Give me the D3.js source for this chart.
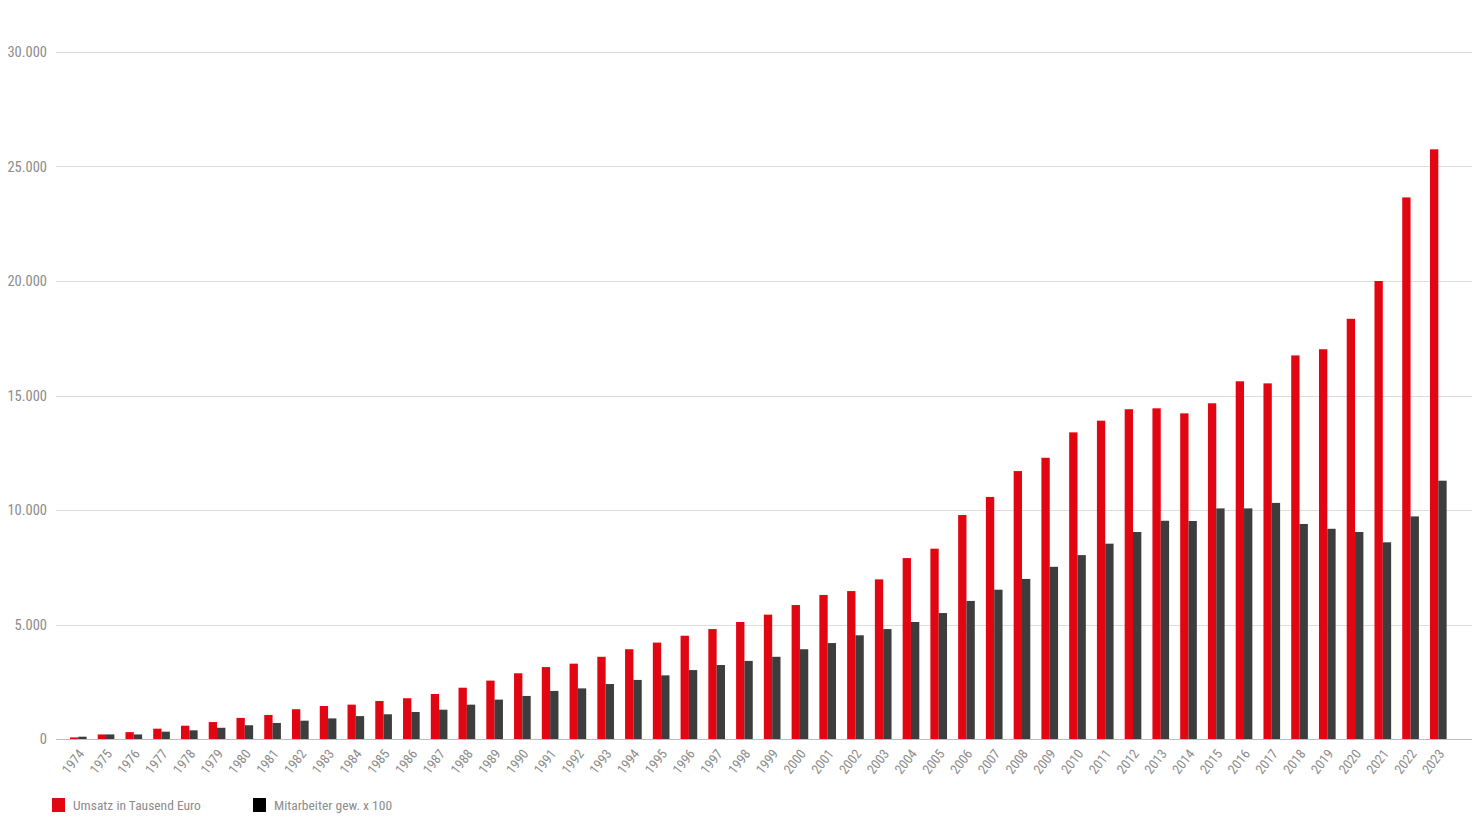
<!DOCTYPE html>
<html>
<head>
<meta charset="utf-8">
<script src="https://cdn.jsdelivr.net/npm/d3@7"></script>
<style>
  html, body { margin: 0; padding: 0; background: #fff; }
  svg { display: block; }
  text { font-family: "Liberation Sans Narrow", "Arial Narrow", "Roboto Condensed", "DejaVu Sans Condensed", sans-serif; fill: #8c8c8c; }
</style>
</head>
<body>
<svg id="chart" width="1472" height="837"></svg>
<script>
const years = [1974,1975,1976,1977,1978,1979,1980,1981,1982,1983,1984,1985,1986,1987,1988,1989,1990,1991,1992,1993,1994,1995,1996,1997,1998,1999,2000,2001,2002,2003,2004,2005,2006,2007,2008,2009,2010,2011,2012,2013,2014,2015,2016,2017,2018,2019,2020,2021,2022,2023];
const umsatz = [70,200,300,450,580,740,920,1050,1300,1440,1500,1660,1780,1965,2240,2550,2870,3140,3290,3590,3920,4210,4510,4800,5110,5430,5850,6290,6460,6970,7900,8310,9780,10570,11700,12280,13390,13900,14400,14440,14220,14660,15620,15530,16750,17020,18350,20000,23650,25750];
const mitarbeiter = [100,200,200,320,380,490,600,700,800,900,1000,1080,1180,1280,1500,1720,1880,2100,2210,2400,2580,2780,3010,3230,3410,3590,3920,4190,4530,4800,5110,5500,6030,6520,6990,7520,8030,8530,9040,9530,9520,10070,10070,10310,9390,9180,9040,8590,9720,11280];
const yTicks = [0,5000,10000,15000,20000,25000,30000];
const seriesNames = ["Umsatz in Tausend Euro", "Mitarbeiter gew. x 100"];
const seriesColors = ["#e20613", "#3d3d3d"];
const legendColors = ["#e20613", "#000000"];

const svg = d3.select("#chart");
const plotLeft = 56, plotRight = 1472;
const y = d3.scaleLinear().domain([0, 30000]).range([739, 52]);
const x = d3.scaleBand().domain(years).range([64.4, 1452.2]).paddingInner(0.4).paddingOuter(0.2);
const sub = d3.scaleBand().domain([0, 1]).range([0, x.bandwidth()]);

const fmt = d3.formatLocale({decimal: ",", thousands: ".", grouping: [3], currency: ["", "€"]}).format(",d");

// grid
svg.append("g").selectAll("line").data(yTicks.filter(d => d > 0)).join("line")
  .attr("x1", plotLeft).attr("x2", plotRight)
  .attr("y1", d => Math.round(y(d)) + 0.5).attr("y2", d => Math.round(y(d)) + 0.5)
  .attr("stroke", "#dcdcdc").attr("stroke-width", 1);

// y labels
svg.append("g").selectAll("text").data(yTicks).join("text")
  .attr("x", 47).attr("y", d => y(d)).attr("dy", "0.35em")
  .attr("text-anchor", "end").attr("font-size", 14.5)
  .text(d => fmt(d));

// bars
const groups = svg.append("g").selectAll("g").data(years).join("g")
  .attr("transform", d => `translate(${x(d)},0)`);
groups.append("rect")
  .attr("x", sub(0)).attr("width", sub.bandwidth())
  .attr("y", (d, i) => y(umsatz[i])).attr("height", (d, i) => y(0) - y(umsatz[i]))
  .attr("fill", seriesColors[0]);
groups.append("rect")
  .attr("x", sub(1)).attr("width", sub.bandwidth())
  .attr("y", (d, i) => y(mitarbeiter[i])).attr("height", (d, i) => y(0) - y(mitarbeiter[i]))
  .attr("fill", seriesColors[1]);

// baseline
svg.append("line").attr("x1", plotLeft).attr("x2", plotRight)
  .attr("y1", Math.round(y(0)) + 0.5).attr("y2", Math.round(y(0)) + 0.5)
  .attr("stroke", "#bdbdbd").attr("stroke-width", 1.2);

// x labels
svg.append("g").selectAll("text").data(years).join("text")
  .attr("transform", d => `translate(${x(d) + x.bandwidth() / 2 + 3},751) rotate(-52)`)
  .attr("text-anchor", "end").attr("dy", "0.35em").attr("font-size", 13.5)
  .text(d => d);

// legend
const legendX = [52, 253];
const lg = svg.append("g").selectAll("g").data(seriesNames).join("g")
  .attr("transform", (d, i) => `translate(${legendX[i]},798)`);
lg.append("rect").attr("width", 13).attr("height", 14).attr("fill", (d, i) => legendColors[i]);
lg.append("text").attr("x", 21).attr("y", 12).attr("font-size", 13.5).text(d => d);
</script>
</body>
</html>
